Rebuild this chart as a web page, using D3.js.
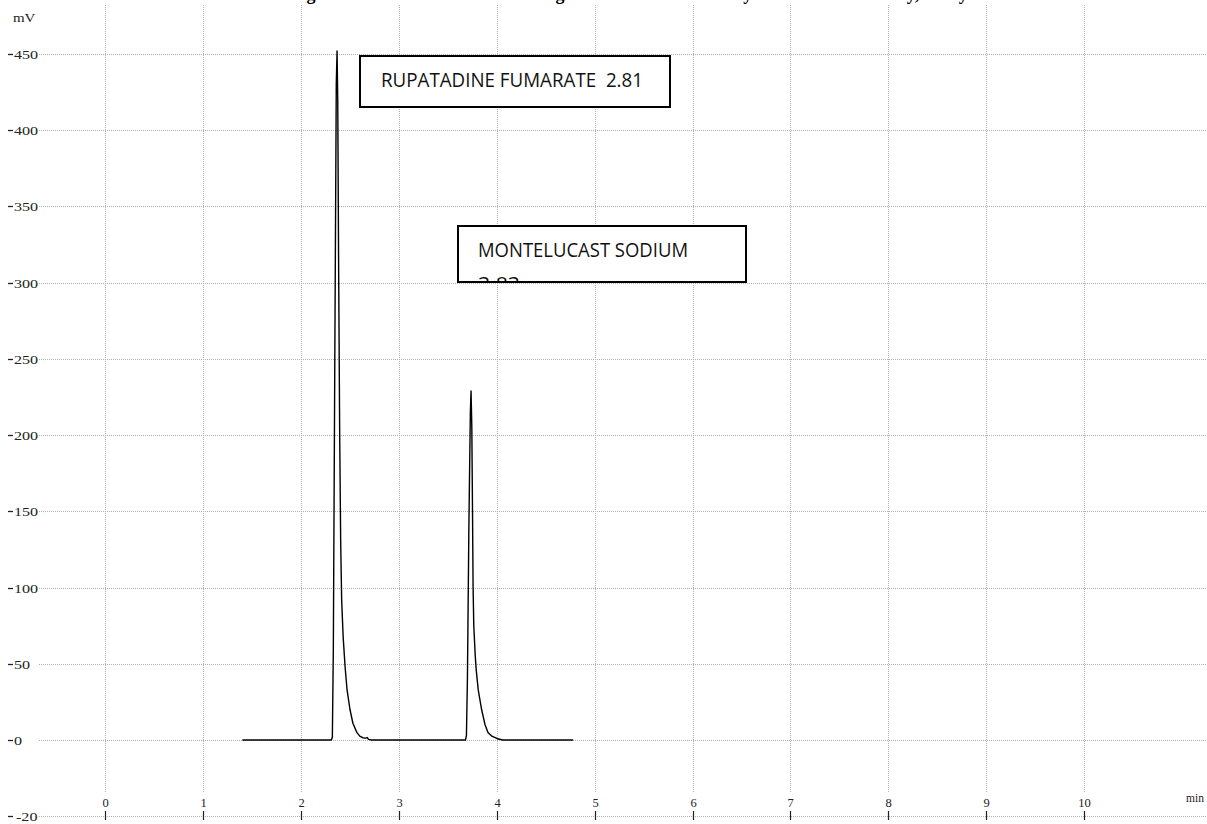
<!DOCTYPE html>
<html><head><meta charset="utf-8">
<script src="https://cdn.jsdelivr.net/npm/d3@7"></script>
<style>
html,body{margin:0;padding:0;background:#fff;overflow:hidden}
svg{display:block}
</style></head>
<body>
<svg id="chart" width="1207" height="824"></svg>
<script>
// ---- data ----
const titleText = "Chromatogram of Mixed Standard showing Interference Free Study and Good Selectivity, Assay";
const yTicks = [450, 400, 350, 300, 250, 200, 150, 100, 50, 0, -20];
const yTickLabels = ["450","400","350","300","250","200","150","100","50","0","-20"];
const xTicks = [0,1,2,3,4,5,6,7,8,9,10];
const xTickLabels = ["0","1","2","3","4","5","6","7","8","9","10"];
const yUnit = "mV";
const xUnit = "min";
// chromatogram trace: time (min) and signal (mV)
const traceTime = [1.40, 2.00, 2.31, 2.32, 2.33, 2.345, 2.36, 2.368, 2.375, 2.385, 2.395, 2.405, 2.415, 2.43, 2.45, 2.47, 2.50, 2.53, 2.57, 2.60, 2.63, 2.66, 2.675, 2.69, 2.72, 3.00, 3.40, 3.68, 3.69, 3.70, 3.715, 3.73, 3.737, 3.745, 3.752, 3.758, 3.765, 3.78, 3.79, 3.81, 3.845, 3.88, 3.91, 3.95, 4.00, 4.03, 4.06, 4.40, 4.78];
const traceMv   = [0, 0, 0, 2, 60, 250, 430, 452, 420, 300, 200, 130, 92, 68, 48, 33, 20, 11, 5, 2.5, 1.5, 1.2, 1.6, 0.4, 0, 0, 0, 0, 3, 40, 140, 215, 229, 205, 150, 100, 75, 55, 46, 33, 20, 10, 5, 2.5, 1, 0.5, 0, 0, 0];
const peakNames = ["RUPATADINE FUMARATE  2.81", "MONTELUCAST SODIUM"];
const peakSecond = ["", "3.83"];

// ---- scales ----
const svg = d3.select("#chart");
const x = d3.scaleLinear().domain([0, 10]).range([105.3, 1084]);
const y = d3.scaleLinear().domain([-20, 0, 450]).range([816, 740, 54]);

const serif = "'Liberation Serif', 'Times New Roman', serif";

// ---- title (cut off at the top edge, as in the original) ----
const titleFs = 18;
function measure(str) {
  const tmp = svg.append("text").attr("font-family", serif).attr("font-weight", "bold")
    .attr("font-size", titleFs).style("white-space", "pre").text(str);
  const w = tmp.node().getComputedTextLength();
  tmp.remove();
  return w;
}
const pre = titleText.slice(0, titleText.indexOf("Chromatogram") + 8);
const gCenter = measure(pre) + measure("g") / 2;
svg.append("text")
  .attr("x", 311 - gCenter).attr("y", -0.5)
  .attr("font-family", serif)
  .attr("font-weight", "bold").attr("font-size", titleFs)
  .attr("fill", "#000").text(titleText);

// ---- grid ----
const gridColor = "#b0b0b0";
svg.append("g").selectAll("line").data(xTicks).join("line")
  .attr("x1", d => Math.round(x(d)) + 0.5).attr("x2", d => Math.round(x(d)) + 0.5)
  .attr("y1", 5).attr("y2", 792)
  .attr("stroke", gridColor).attr("stroke-width", 1).attr("stroke-dasharray", "1,1");
svg.append("g").selectAll("line").data(yTicks).join("line")
  .attr("x1", 39).attr("x2", 1207)
  .attr("y1", d => Math.round(y(d)) + 0.5).attr("y2", d => Math.round(y(d)) + 0.5)
  .attr("stroke", gridColor).attr("stroke-width", 1).attr("stroke-dasharray", "1,1");

// ---- y axis labels ----
const yl = svg.append("g");
yTicks.forEach((v, i) => {
  const yy = Math.round(y(v)) + 0.5;
  yl.append("line").attr("x1", 8).attr("x2", 13).attr("y1", yy).attr("y2", yy)
    .attr("stroke", "#222").attr("stroke-width", 1.3);
  yl.append("text")
    .attr("transform", `translate(${v < 0 ? 16 : 14},${yy + 4}) scale(1.4,1)`)
    .attr("font-family", serif)
    .attr("font-size", 11.5).attr("fill", "#222").text(yTickLabels[i]);
});
svg.append("text").attr("transform", "translate(13,22) scale(1.3,1)")
  .attr("font-family", serif)
  .attr("font-size", 11.5).attr("fill", "#222").text(yUnit);

// ---- x axis labels & ticks ----
const xg = svg.append("g");
xTicks.forEach((v, i) => {
  const xx = Math.round(x(v)) + 0.5;
  xg.append("line").attr("x1", xx).attr("x2", xx).attr("y1", 811).attr("y2", 820)
    .attr("stroke", "#222").attr("stroke-width", 1.2);
  xg.append("text").attr("x", xx).attr("y", 807).attr("text-anchor", "middle")
    .attr("font-family", serif)
    .attr("font-size", 12.5).attr("fill", "#222").text(xTickLabels[i]);
});
svg.append("text").attr("x", 1186).attr("y", 802)
  .attr("font-family", serif)
  .attr("font-size", 11.5).attr("fill", "#222").text(xUnit);

// ---- trace ----
const pts = traceTime.map((tt, i) => [tt, traceMv[i]]);
svg.append("path").datum(pts)
  .attr("d", d3.line().x(d => x(d[0])).y(d => y(d[1])))
  .attr("fill", "none").attr("stroke", "#000").attr("stroke-width", 1.4)
  .attr("stroke-linejoin", "round");

// ---- label boxes ----
const boxes = [
  {x0: 360, y0: 56, w: 310, h: 51, tx: 381, ty: 87, tw: 262},
  {x0: 458, y0: 226, w: 288, h: 56, tx: 478, ty: 257, tw: 210}
];
const defs = svg.append("defs");
boxes.forEach((b, i) => {
  defs.append("clipPath").attr("id", "clip" + i).append("rect")
    .attr("x", b.x0).attr("y", b.y0).attr("width", b.w).attr("height", b.h);
  svg.append("rect").attr("x", b.x0).attr("y", b.y0).attr("width", b.w).attr("height", b.h)
    .attr("fill", "#fff");
  const g = svg.append("g").attr("clip-path", `url(#clip${i})`);
  g.append("text").attr("x", b.tx).attr("y", b.ty)
    .attr("font-family", "'Open Sans', 'Noto Sans', sans-serif")
    .attr("font-size", 19.5).attr("fill", "#111")
    .style("white-space", "pre")
    .attr("textLength", b.tw).attr("lengthAdjust", "spacingAndGlyphs")
    .text(peakNames[i]);
  if (peakSecond[i]) {
    g.append("text").attr("x", b.tx).attr("y", b.ty + 34)
      .attr("font-family", "'Open Sans', 'Noto Sans', sans-serif")
      .attr("font-size", 19.5).attr("fill", "#111")
      .attr("textLength", 42).attr("lengthAdjust", "spacingAndGlyphs")
      .text(peakSecond[i]);
  }
  svg.append("rect").attr("x", b.x0).attr("y", b.y0).attr("width", b.w).attr("height", b.h)
    .attr("fill", "none").attr("stroke", "#000").attr("stroke-width", 2);
});
</script>
</body></html>
